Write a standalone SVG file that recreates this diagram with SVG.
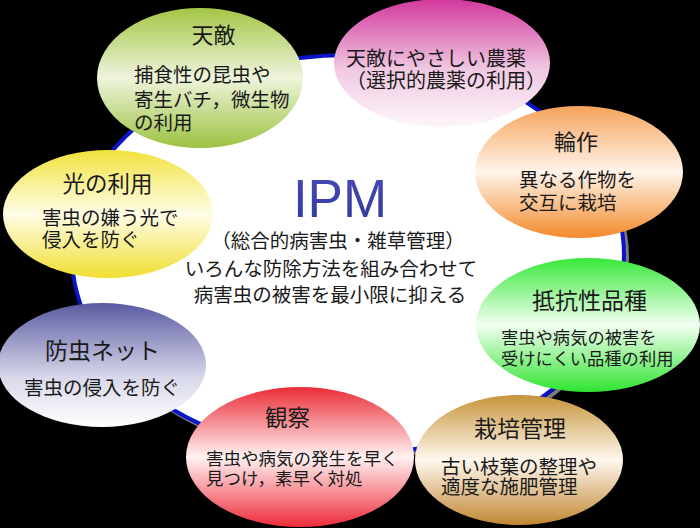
<svg xmlns="http://www.w3.org/2000/svg" width="700" height="528" viewBox="0 0 700 528">
<defs>
<linearGradient id="gOlive" x1="0" y1="0" x2="0" y2="1"><stop offset="0" stop-color="#a3c644"/><stop offset="0.5" stop-color="#eef4dc"/><stop offset="1" stop-color="#9cc240"/></linearGradient>
<linearGradient id="gPink" x1="0" y1="0" x2="0" y2="1"><stop offset="0" stop-color="#d2389c"/><stop offset="0.55" stop-color="#f0c8e2"/><stop offset="1" stop-color="#fdf6fa"/></linearGradient>
<linearGradient id="gOrange" x1="0" y1="0" x2="0" y2="1"><stop offset="0" stop-color="#f6a35a"/><stop offset="0.5" stop-color="#fff4ea"/><stop offset="1" stop-color="#f38a2a"/></linearGradient>
<linearGradient id="gYellow" x1="0" y1="0" x2="0" y2="1"><stop offset="0" stop-color="#f2e23c"/><stop offset="0.5" stop-color="#fffde8"/><stop offset="1" stop-color="#f0de30"/></linearGradient>
<linearGradient id="gGreen" x1="0" y1="0" x2="0" y2="1"><stop offset="0" stop-color="#38e838"/><stop offset="0.5" stop-color="#f2fff2"/><stop offset="1" stop-color="#30e430"/></linearGradient>
<linearGradient id="gSlate" x1="0" y1="0" x2="0" y2="1"><stop offset="0" stop-color="#5a5aa2"/><stop offset="0.6" stop-color="#d8d8ea"/><stop offset="1" stop-color="#ffffff"/></linearGradient>
<linearGradient id="gRed" x1="0" y1="0" x2="0" y2="1"><stop offset="0" stop-color="#ea2c36"/><stop offset="0.5" stop-color="#fff2f2"/><stop offset="1" stop-color="#ee2c3a"/></linearGradient>
<linearGradient id="gBrown" x1="0" y1="0" x2="0" y2="1"><stop offset="0" stop-color="#c6943a"/><stop offset="0.5" stop-color="#fff8ee"/><stop offset="1" stop-color="#c08632"/></linearGradient>
<linearGradient id="gIPM" x1="0" y1="0" x2="0" y2="1"><stop offset="0" stop-color="#4a4ab8"/><stop offset="1" stop-color="#2e3a9c"/></linearGradient>
</defs>
<style>
text{font-family:"Noto Sans CJK JP","Noto Sans",sans-serif;fill:#1a1a1a;}
.t{font-size:22px;text-anchor:middle;}
.b{font-size:19.5px;}
.s{font-size:17.3px;}
.c{font-size:19.5px;text-anchor:middle;}
.n{stroke:none;}
</style>
<rect x="0" y="0" width="700" height="528" fill="#000000"/>
<g id="hub">
<ellipse cx="351" cy="258" rx="276" ry="200" fill="none" stroke="#7a7a7a" stroke-width="4"/>
<ellipse cx="348" cy="255" rx="276" ry="200" fill="#ffffff" stroke="#0a14c8" stroke-width="4"/>
<text x="340" y="217" style="font-family:'Liberation Sans',Arial,sans-serif;font-size:53px;text-anchor:middle;fill:url(#gIPM)">IPM</text>
<text class="c" x="338" y="248.4">（総合的病害虫・雑草管理）</text>
<text class="c" x="331" y="276.4">いろんな防除方法を組み合わせて</text>
<text class="c" x="330" y="302.4">病害虫の被害を最小限に抑える</text>
</g>
<g id="connectors"></g>
<g id="node-tenteki">
<ellipse class="n" cx="200" cy="78" rx="103" ry="70" fill="url(#gOlive)"/>
<text class="t" x="213.5" y="43.4">天敵</text>
<text class="b" x="134" y="82.4">捕食性の昆虫や</text>
<text class="b" x="134" y="107.4">寄生バチ，微生物</text>
<text class="b" x="134" y="130.4">の利用</text>
</g>
<g id="node-nouyaku">
<ellipse class="n" cx="442" cy="63" rx="108" ry="64" fill="url(#gPink)"/>
<text class="b" x="346" y="65.6" style="font-size:20px">天敵にやさしい農薬</text>
<text class="b" x="346" y="87.6" style="font-size:20px">（選択的農薬の利用）</text>
</g>
<g id="node-rinsaku">
<ellipse class="n" cx="579" cy="172" rx="104" ry="66" fill="url(#gOrange)"/>
<text class="t" x="576" y="150.4">輪作</text>
<text class="b" x="519" y="187.4">異なる作物を</text>
<text class="b" x="519" y="210.4">交互に栽培</text>
</g>
<g id="node-hikari">
<ellipse class="n" cx="108" cy="214" rx="105" ry="64" fill="url(#gYellow)"/>
<text class="t" x="107.5" y="191.6" style="font-size:22.5px">光の利用</text>
<text class="b" x="42" y="225.4">害虫の嫌う光で</text>
<text class="b" x="42" y="247.4">侵入を防ぐ</text>
</g>
<g id="node-teikousei">
<ellipse class="n" cx="588" cy="325" rx="112" ry="67" fill="url(#gGreen)"/>
<text class="t" x="589.5" y="308.7" style="font-size:23px">抵抗性品種</text>
<text class="s" x="501" y="343.5">害虫や病気の被害を</text>
<text class="s" x="501" y="364.5">受けにくい品種の利用</text>
</g>
<g id="node-net">
<ellipse class="n" cx="102" cy="365" rx="104" ry="62" fill="url(#gSlate)"/>
<text class="t" x="102.5" y="358.7" style="font-size:23px">防虫ネット</text>
<text class="b" x="24" y="395.4">害虫の侵入を防ぐ</text>
</g>
<g id="node-kansatsu">
<ellipse class="n" cx="300" cy="457" rx="114" ry="70" fill="url(#gRed)"/>
<text class="t" x="287.5" y="425.5" style="font-size:22.5px">観察</text>
<text class="s" x="206" y="464.7" style="font-size:17.5px">害虫や病気の発生を早く</text>
<text class="s" x="206" y="484.7" style="font-size:17.5px">見つけ，素早く対処</text>
</g>
<g id="node-saibai">
<ellipse class="n" cx="519" cy="460" rx="104" ry="65" fill="url(#gBrown)"/>
<text class="t" x="520" y="436.7" style="font-size:23px">栽培管理</text>
<text class="b" x="441" y="474.4">古い枝葉の整理や</text>
<text class="b" x="441" y="494.4">適度な施肥管理</text>
</g>
</svg>
